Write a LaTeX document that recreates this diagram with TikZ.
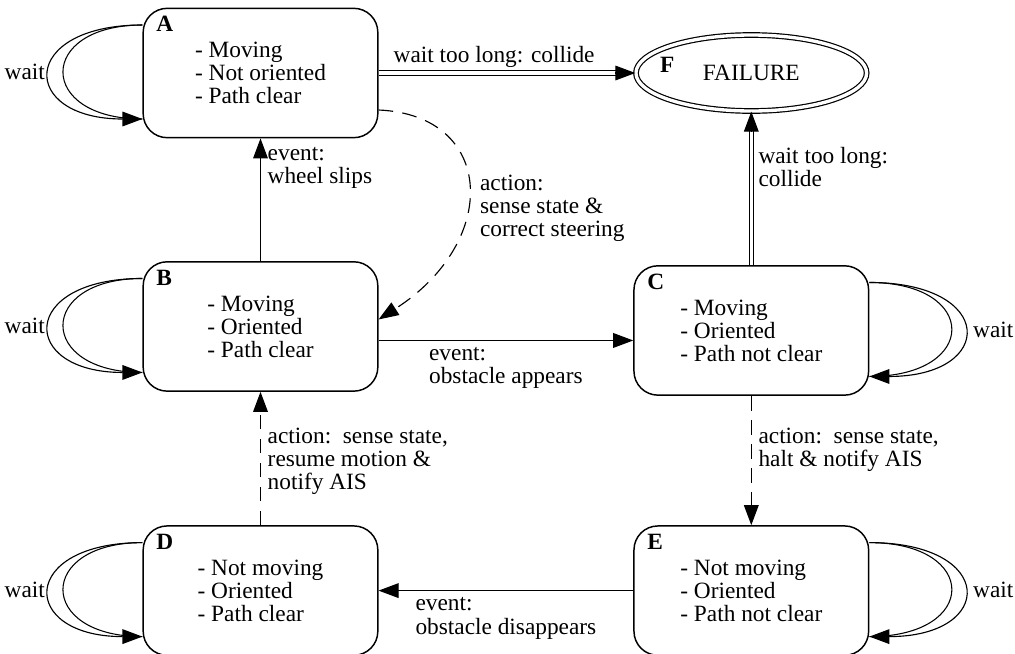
\documentclass[tikz,border=0pt]{standalone}
\usepackage{fontspec}
\setmainfont{Liberation Serif}
\usepackage{tikz}
\usetikzlibrary{positioning,shapes.geometric,arrows.meta}
\newcommand{\diagfont}{\fontsize{17.5pt}{17.3pt}\selectfont}
\tikzset{state/.style={draw,rounded corners=18pt,line width=1.1pt,minimum width=176pt,minimum height=97pt,align=left},
	 tag/.style={font={\diagfont\bfseries},anchor=north west,xshift=7pt,yshift=-3pt},
	 fail/.style={ellipse,draw,double,double distance=2.5pt,line width=0.9pt,minimum width=173pt,minimum height=57pt},
	 trans/.style={line width=0.85pt,-{Triangle[length=15pt,width=11pt]}},
	 dashtrans/.style={trans,dash pattern=on 11pt off 7pt},
	 dbl/.style={line width=0.8pt,double,double distance=2.5pt,shorten >=14pt},
	 loopline/.style={line width=0.8pt},
	 elabel/.style={align=left,inner sep=5pt}
	 }

\begin{document}
\begin{tikzpicture}[x=0.75pt,y=-0.75pt,font=\diagfont] % rover states
	\useasboundingbox (0,0) rectangle (1015,654);
	\node[state] (A) at (260.5,73) [label={[tag]north west:A}] {- Moving\\- Not oriented\\- Path clear};
	\node[state] (B) [below=92pt of A] [label={[tag]north west:B}] {- Moving\\- Oriented\\- Path clear};
	\node[state] (D) [below=100pt of B] [label={[tag]north west:D}] {- Not moving\\- Oriented\\- Path clear};
	\node[state] (C) [right=191pt of B,yshift=-3pt] [label={[tag]north west:C}] {- Moving\\- Oriented\\- Path not clear};
	\node[state] (E) [right=191pt of D] [label={[tag]north west:E}] {- Not moving\\- Oriented\\- Path not clear};
	\node[fail] (F) at (C |- A) [label={[font={\diagfont\bfseries},anchor=west,xshift=15pt,yshift=6pt]west:F}] {FAILURE};
	\coordinate (Fs) at (C.north |- F.south);
	% transitions
	\draw[dbl] (A.east |- F.west) -- (F.west) node[above,pos=0.45] {wait too long: collide};
	\draw[trans] ([xshift=-15pt]F.west) -- (F.west);
	\draw[trans] (B) -- (A) node[elabel,right,pos=0.76] {event:\\wheel slips};
	\draw[dashtrans] ([shift={(0,37)}]A.east) .. controls +(117,5) and +(122,-78) .. ([shift={(0,-7)}]B.east)
		node[elabel,right,pos=0.58,xshift=5pt] {action:\\sense state \&\\correct steering};
	\draw[trans] ([shift={(0,14)}]B.east) -- ([shift={(0,10)}]C.west) node[elabel,below,midway] {event:\\obstacle appears};
	\draw[dbl] (C.north) -- (Fs) node[elabel,right,pos=0.64] {wait too long:\\collide};
	\draw[trans] ([yshift=-15pt]Fs) -- (Fs);
	\draw[dashtrans] (C) -- (E) node[elabel,right,pos=0.42] {action:\enspace sense state,\\halt \& notify AIS};
	\draw[dashtrans] (D) -- (B) node[elabel,right,pos=0.48] {action:\enspace sense state,\\resume motion \&\\notify AIS};
	\draw[trans] (E) -- (D) node[elabel,below,midway] {event:\\obstacle disappears};
	% wait loops
	\draw[loopline] ([shift={(0,-48)}]A.west) .. controls +(-106,0) and +(-106,0) .. ([shift={(0,46)}]A.west);
	\draw[loopline,trans] ([shift={(0,-48)}]A.west) .. controls +(-124,0) and +(-124,0) .. ([shift={(0,46)}]A.west) node[left,pos=0.5,inner sep=3pt] {wait};
	\draw[loopline] ([shift={(0,-48)}]B.west) .. controls +(-106,0) and +(-106,0) .. ([shift={(0,46)}]B.west);
	\draw[loopline,trans] ([shift={(0,-48)}]B.west) .. controls +(-124,0) and +(-124,0) .. ([shift={(0,46)}]B.west) node[left,pos=0.5,inner sep=3pt] {wait};
	\draw[loopline] ([shift={(0,-48)}]D.west) .. controls +(-106,0) and +(-106,0) .. ([shift={(0,46)}]D.west);
	\draw[loopline,trans] ([shift={(0,-48)}]D.west) .. controls +(-124,0) and +(-124,0) .. ([shift={(0,46)}]D.west) node[left,pos=0.5,inner sep=3pt] {wait};
	\draw[loopline] ([shift={(0,-48)}]C.east) .. controls +(110,0) and +(110,0) .. ([shift={(0,46)}]C.east);
	\draw[loopline,trans] ([shift={(0,-48)}]C.east) .. controls +(127,0) and +(127,0) .. ([shift={(0,46)}]C.east) node[right,pos=0.5,inner sep=6pt] {wait};
	\draw[loopline] ([shift={(0,-48)}]E.east) .. controls +(110,0) and +(110,0) .. ([shift={(0,46)}]E.east);
	\draw[loopline,trans] ([shift={(0,-48)}]E.east) .. controls +(127,0) and +(127,0) .. ([shift={(0,46)}]E.east) node[right,pos=0.5,inner sep=6pt] {wait};
\end{tikzpicture}
\end{document}
